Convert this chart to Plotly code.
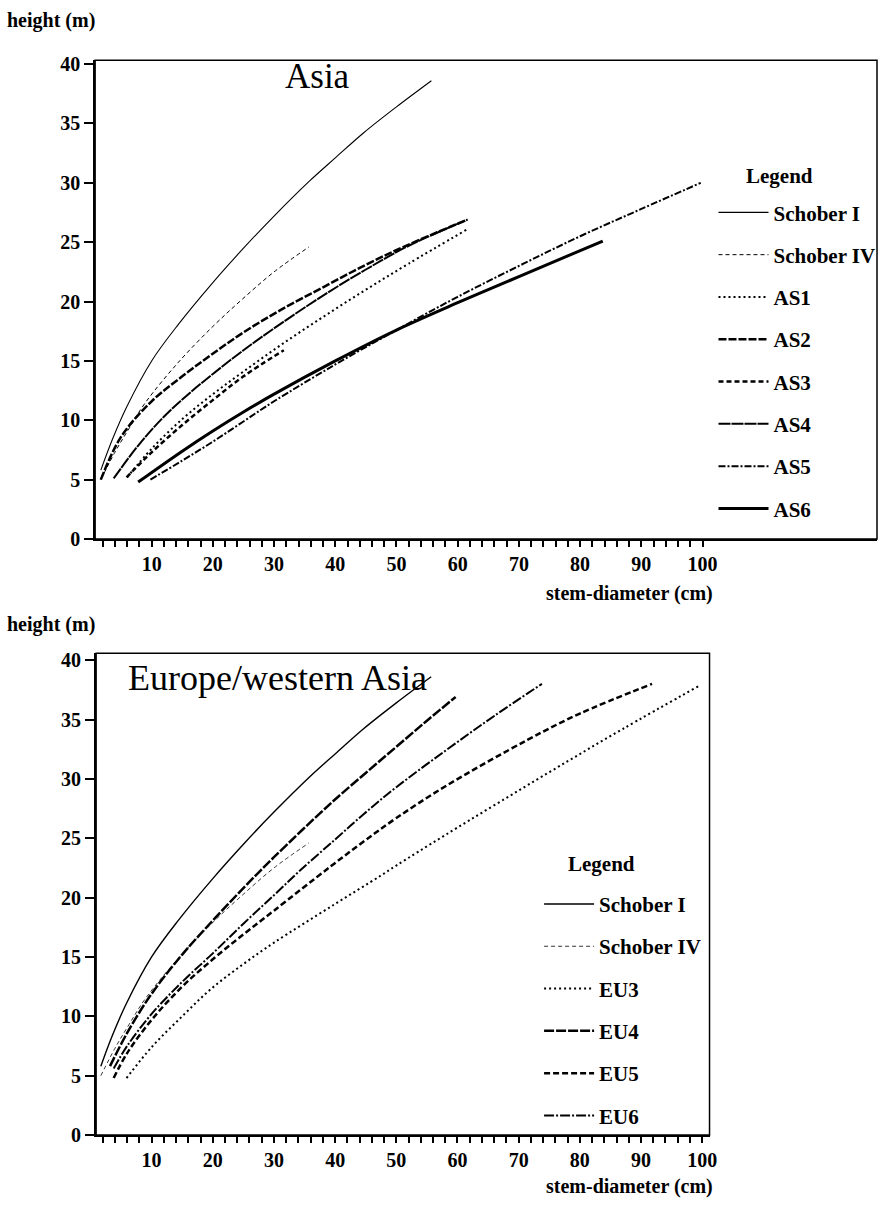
import plotly.graph_objects as go

# ---------------- data ----------------
schober1_x = [1.7, 3.6, 5.9, 10, 14.4, 20, 25.2, 30, 35.9, 40, 44.6, 50, 55.7]
schober1_y = [5.8, 8.4, 11.1, 15.0, 18.1, 21.6, 24.6, 27.2, 30.2, 32.1, 34.2, 36.4, 38.6]
schober4_x = [1.7, 4, 6.3, 9, 14.4, 20, 24.6, 30, 35.7]
schober4_y = [5.0, 7.3, 9.3, 11.5, 14.9, 17.9, 20.1, 22.5, 24.6]

as1_x = [6, 10, 15, 20, 25, 31, 38, 45, 52, 61.6]
as1_y = [5.2, 7.6, 10.1, 12.2, 14.1, 16.3, 18.7, 21.0, 23.2, 26.1]
as2_x = [1.7, 5, 10, 15, 19.7, 25, 31.1, 38, 45, 52, 61.6]
as2_y = [5.0, 8.6, 11.6, 13.7, 15.5, 17.4, 19.3, 21.2, 23.1, 24.8, 26.9]
as3_x = [5.9, 10, 15, 20, 25, 31.6]
as3_y = [5.2, 7.3, 9.6, 11.7, 13.7, 15.9]
as4_x = [3.8, 8, 12, 16, 20, 25, 31, 38, 45, 52, 61.6]
as4_y = [5.1, 8.0, 10.3, 12.2, 13.9, 15.9, 18.1, 20.5, 22.7, 24.7, 26.9]
as5_x = [9.8, 15, 20, 25, 30, 40, 50, 60, 70, 80, 90, 99.7]
as5_y = [5.0, 6.6, 8.2, 9.9, 11.6, 14.7, 17.6, 20.4, 23.0, 25.5, 27.8, 30.0]
as6_x = [7.8, 15, 20, 25, 30, 40, 50, 60, 70, 83.7]
as6_y = [4.8, 7.4, 9.1, 10.7, 12.2, 15.0, 17.6, 19.9, 22.1, 25.1]

eu3_x = [5.9, 10, 15, 19.7, 25, 30, 39.8, 47.3, 50, 58.1, 74.8, 87, 99.7]
eu3_y = [4.8, 7.4, 10.0, 12.3, 14.4, 16.2, 19.4, 21.8, 22.7, 25.3, 30.5, 34.2, 37.9]
eu4_x = [3.2, 6, 10, 15, 19.7, 25, 30, 39.2, 45, 50, 55, 59.7]
eu4_y = [5.8, 8.6, 11.9, 15.2, 17.9, 20.8, 23.4, 27.9, 30.5, 32.7, 34.9, 36.9]
eu5_x = [3.8, 6, 10, 15, 20, 25, 30, 39.2, 44.6, 50, 58.1, 71.5, 80, 91.8]
eu5_y = [4.8, 6.9, 9.7, 12.5, 14.8, 16.9, 18.9, 22.6, 24.7, 26.7, 29.4, 33.3, 35.5, 38.0]
eu6_x = [3.8, 6, 10, 15, 20, 25, 30, 34.3, 40, 44.6, 50, 58.1, 66, 73.8]
eu6_y = [5.6, 7.5, 10.2, 12.9, 15.3, 17.8, 20.2, 22.3, 24.9, 27.0, 29.3, 32.4, 35.3, 38.0]

y_ticks = [0, 5, 10, 15, 20, 25, 30, 35, 40]
x_ticks = list(range(2, 102, 2))
x_ticktext = [str(v) if v % 10 == 0 else "" for v in x_ticks]

# ---------------- figure ----------------
W, H = 886, 1214
SERIF = "Liberation Serif"

fig = go.Figure()

top_series = [
    ("Schober I", schober1_x, schober1_y, "solid", 1.1),
    ("Schober IV", schober4_x, schober4_y, "4px,3px", 1.0),
    ("AS1", as1_x, as1_y, "2px,3px", 2.0),
    ("AS2", as2_x, as2_y, "8px,2px", 2.5),
    ("AS3", as3_x, as3_y, "5px,3px", 2.5),
    ("AS4", as4_x, as4_y, "12px,1px", 2.0),
    ("AS5", as5_x, as5_y, "7px,2px,2px,2px", 2.0),
    ("AS6", as6_x, as6_y, "solid", 3.0),
]
bot_series = [
    ("Schober I", schober1_x, schober1_y, "solid", 1.4),
    ("Schober IV", schober4_x, schober4_y, "4px,3px", 0.8),
    ("EU3", eu3_x, eu3_y, "2px,3px", 2.0),
    ("EU4", eu4_x, eu4_y, "10px,2px", 2.5),
    ("EU5", eu5_x, eu5_y, "6px,3px", 2.5),
    ("EU6", eu6_x, eu6_y, "10px,2px,2px,2px", 2.0),
]

for i, (name, xs, ys, dash, w) in enumerate(top_series):
    fig.add_trace(go.Scatter(x=xs, y=ys, mode="lines", name=name,
                             line=dict(color="black", width=w, dash=dash, shape="spline"),
                             xaxis="x", yaxis="y", legend="legend",
                             legendgroup="t%d" % i))
for i, (name, xs, ys, dash, w) in enumerate(bot_series):
    fig.add_trace(go.Scatter(x=xs, y=ys, mode="lines", name=name,
                             line=dict(color="black", width=w, dash=dash, shape="spline"),
                             xaxis="x2", yaxis="y2", legend="legend2",
                             legendgroup="b%d" % i))

tickfont = dict(family=SERIF, size=20, color="black", weight="bold")

def xaxis(domain, rng, anchor):
    return dict(domain=domain, range=rng, anchor=anchor, tickvals=x_ticks, ticktext=x_ticktext,
                ticks="outside", ticklen=6, tickwidth=1.5, tickcolor="black",
                showline=True, linewidth=2, linecolor="black", showgrid=False,
                zeroline=False, tickfont=tickfont, fixedrange=True)

def yaxis(domain, rng, anchor):
    return dict(domain=domain, range=rng, anchor=anchor, tickvals=y_ticks,
                ticks="outside", ticklen=9, tickwidth=1.5, tickcolor="black",
                showline=True, linewidth=2, linecolor="black", showgrid=False,
                zeroline=False, tickfont=tickfont, fixedrange=True)

top_xd = [96 / W, 885 / W]
top_yd = [1 - 540 / H, 1 - 54 / H]
bot_xd = [97 / W, 716 / W]
bot_yd = [1 - 1145 / H, 1 - 656 / H]

legfont = dict(family=SERIF, size=21, color="black", weight="bold")
labfont = dict(family=SERIF, size=20, color="black", weight="bold")

def ann(text, x, y, xanchor, font):
    return dict(text=text, x=x / W, y=1 - y / H, xref="paper", yref="paper",
                xanchor=xanchor, yanchor="middle", showarrow=False, font=font)

fig.update_layout(
    width=W, height=H, margin=dict(l=0, r=0, t=0, b=0),
    paper_bgcolor="white", plot_bgcolor="white",
    xaxis=xaxis(top_xd, [0.77, 128.5], "y"),
    yaxis=yaxis(top_yd, [0, 40.33], "x"),
    xaxis2=xaxis(bot_xd, [0.93, 101.2], "y2"),
    yaxis2=yaxis(bot_yd, [0, 40.58], "x2"),
    legend=dict(x=720 / W, y=1 - 188 / H, xanchor="left", yanchor="top",
                font=legfont, itemwidth=50, tracegroupgap=12,
                bgcolor="rgba(0,0,0,0)"),
    legend2=dict(x=544 / W, y=1 - 890 / H, xanchor="left", yanchor="top",
                 font=legfont, itemwidth=50, tracegroupgap=12,
                 bgcolor="rgba(0,0,0,0)"),
    shapes=[
        dict(type="rect", xref="x domain", yref="y domain", x0=0, x1=1, y0=0, y1=1,
             line=dict(color="black", width=1.5)),
        dict(type="rect", xref="x2 domain", yref="y2 domain", x0=0, x1=1, y0=0, y1=1,
             line=dict(color="black", width=1.5)),
    ],
    annotations=[
        ann("height (m)", 5, 14, "left", labfont),
        ann("height (m)", 5, 627, "left", labfont),
        ann("stem-diameter (cm)", 722, 595, "right", labfont),
        ann("stem-diameter (cm)", 722, 1197, "right", labfont),
        ann("Legend", 787, 172, "center", legfont),
        ann("Legend", 607, 870, "center", legfont),
        ann("Asia", 320, 71, "center", dict(family=SERIF, size=35, color="black")),
        ann("Europe/western Asia", 280, 681, "center", dict(family=SERIF, size=36, color="black")),
    ],
)

fig.write_html("out.html")
